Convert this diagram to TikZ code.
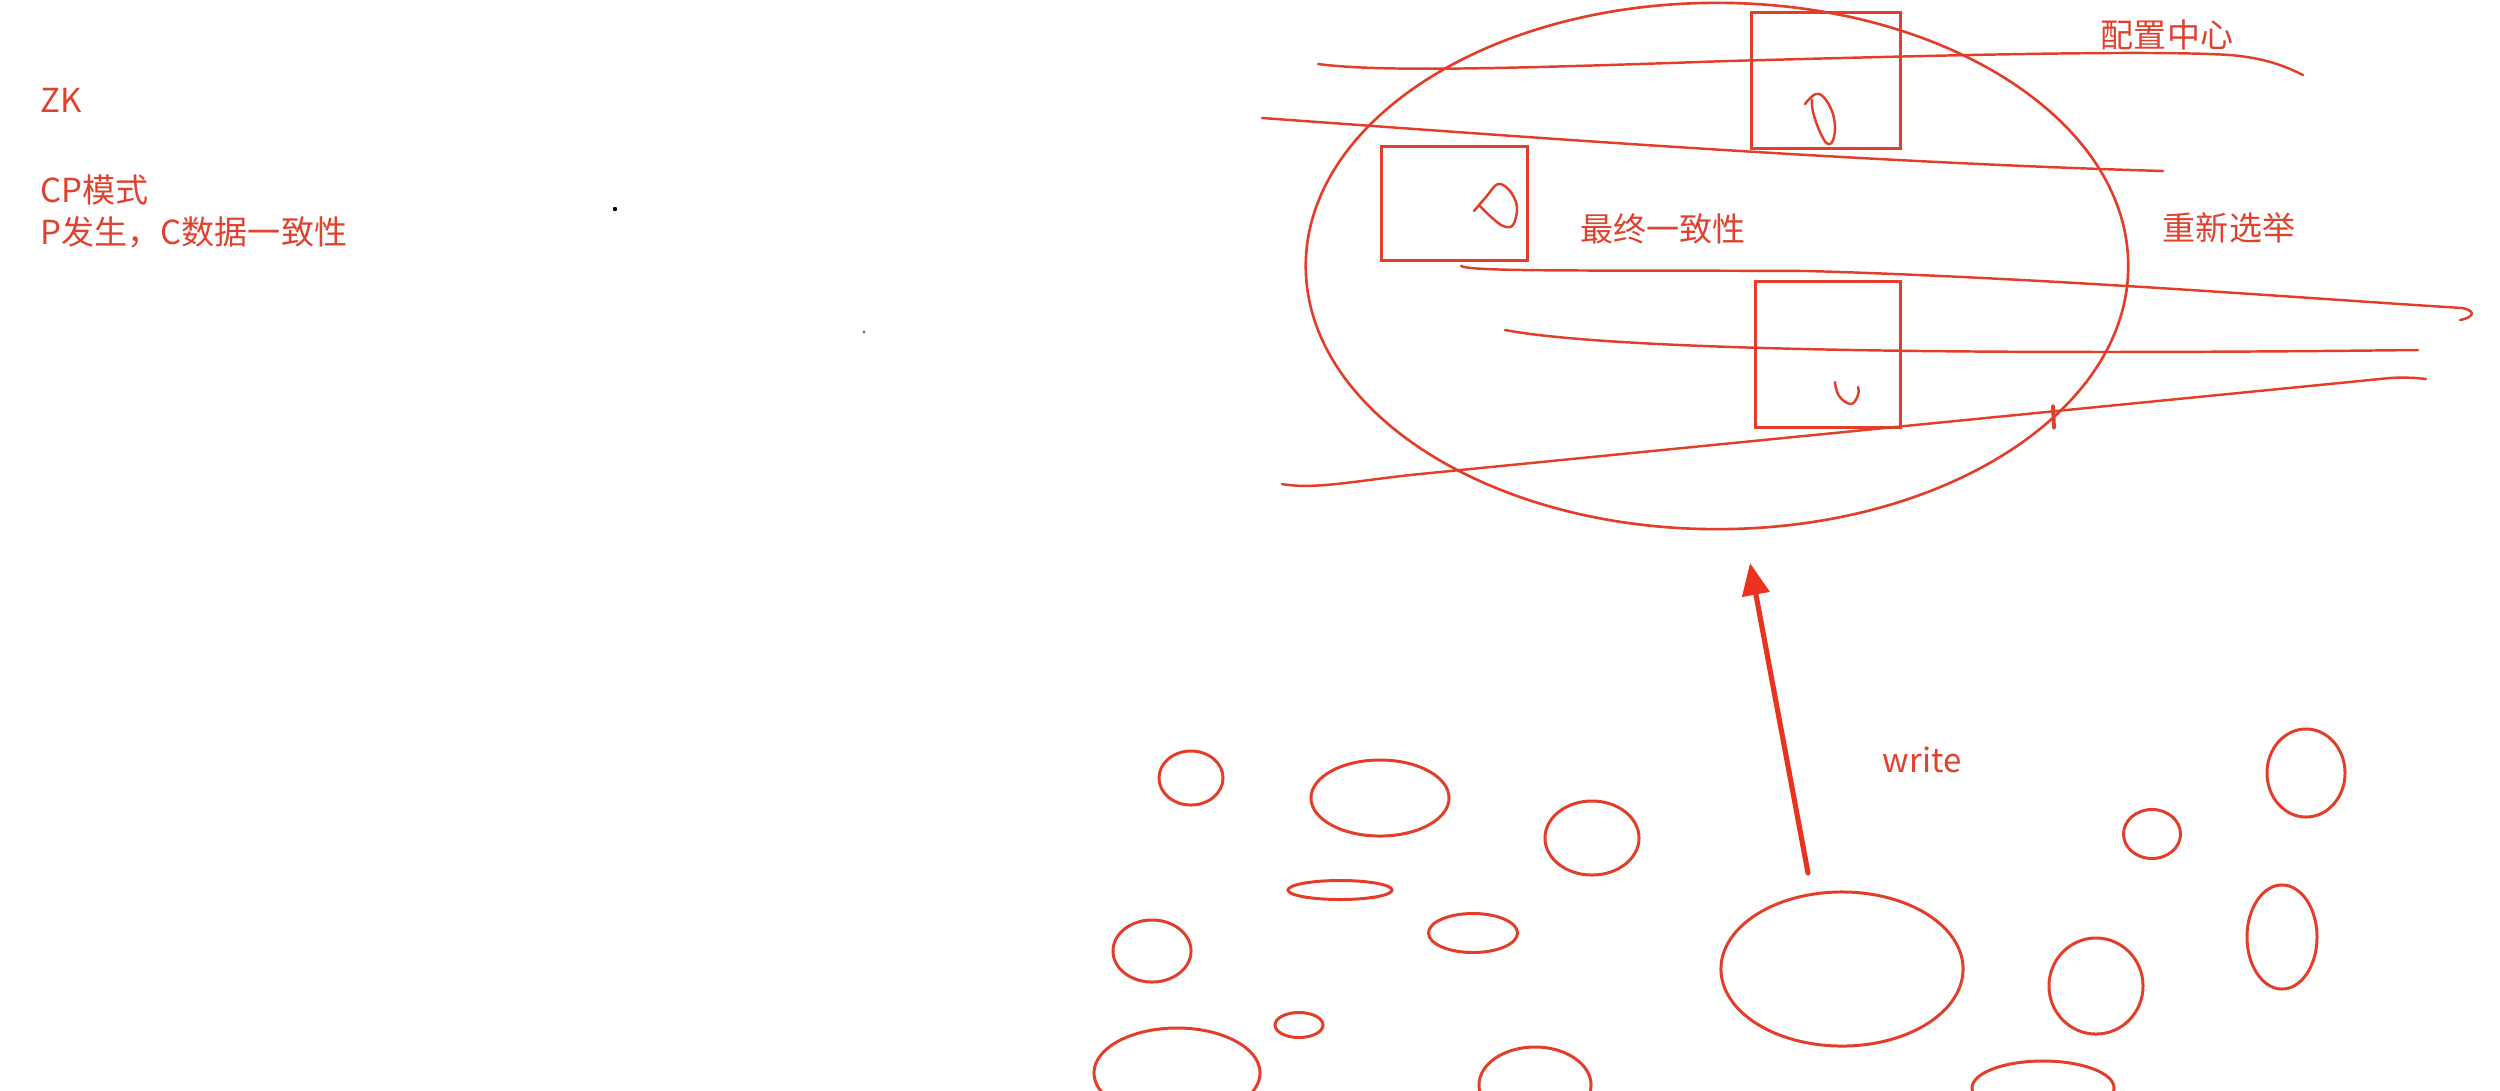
\documentclass[tikz,border=0pt]{standalone}
\usepackage{fontspec}
\setmainfont{Noto Sans CJK SC}
\usetikzlibrary{arrows.meta,shapes.geometric}
\definecolor{zkred}{RGB}{226,62,42}
\definecolor{zktext}{RGB}{224,66,46}
\definecolor{zkarrow}{RGB}{234,50,30}
\tikzset{
  stroke/.style={draw=zkred, line width=0.7pt, line cap=round, line join=round},
  blob/.style={draw=zkred, line width=0.85pt},
  boxnode/.style={draw=zkred, line width=0.85pt, inner sep=0pt},
  lbl/.style={text=zktext, inner sep=0pt, font=\fontsize{9.4}{12}\selectfont},
  writearrow/.style={draw=zkarrow, line width=1.45pt, line cap=round,
    -{Triangle[length=0.32cm,width=0.27cm]}},
}
\begin{document}
\begin{tikzpicture}[x=0.01cm, y=-0.01cm]
\useasboundingbox (0,0) rectangle (2500,1090);
\fill[white] (0,0) rectangle (2500,1090);

% left texts
\node[lbl, anchor=west] (zk) at (40,100) {ZK};
\node[lbl, anchor=west] (cp) at (40,190) {CP模式};
\node[lbl, anchor=west] (pc) at (40,232) {P发生，C数据一致性};

% stray dots
\fill[black] (615,209) circle[radius=2.2];
\fill[black!55] (864,332) circle[radius=1.6];

% big ellipse (cluster)
\node[draw=zkred, line width=0.75pt, ellipse, inner sep=0pt,
      minimum width=8.22cm, minimum height=5.26cm] (cluster) at (1717,266) {};

% boxes
\node[boxnode, minimum width=1.48cm, minimum height=1.35cm] (r1) at (1826,80.5) {};
\node[boxnode, minimum width=1.45cm, minimum height=1.13cm] (r2) at (1454.5,203.5) {};
\node[boxnode, minimum width=1.44cm, minimum height=1.45cm] (r3) at (1828,354.5) {};

% scribbles in boxes
\draw[stroke] plot[smooth, tension=0.7] coordinates {(1805,104) (1816,94) (1826,100) (1834,118) (1834,137) (1828,144) (1820,132) (1813,112) (1812,100)};
\draw[stroke] plot[smooth, tension=0.6] coordinates {(1474,211) (1486,197) (1498,184) (1510,191) (1517,207) (1513,225) (1503,226) (1490,216) (1479,205)};
\draw[stroke] plot[smooth, tension=0.7] coordinates {(1835,382) (1839,396) (1851,404) (1858,395) (1858,387)};

% hand-drawn strokes
\draw[stroke] (1318,64) .. controls (1380,72) and (1500,69) .. (1728,61)
              .. controls (1950,55) and (2150,50) .. (2230,55)
              .. controls (2265,58) and (2285,66) .. (2303,75);
\draw[stroke] (1262,118) .. controls (1500,135) and (1850,162) .. (2163,171);
\draw[stroke] (1461,266) .. controls (1470,272) and (1600,270) .. (1808,271)
              .. controls (2050,278) and (2300,298) .. (2462,308)
              .. controls (2478,311) and (2472,318) .. (2460,320);
\draw[stroke] (1505,330) .. controls (1600,348) and (1900,356) .. (2418,350);
\draw[stroke] (1282,484) .. controls (1315,490) and (1360,480) .. (1420,474)
              -- (2390,378) .. controls (2405,377) and (2418,378) .. (2426,379);
\draw[stroke, line width=1.1pt] (2053,406) -- (2054,428);

% labels in the cluster
\node[lbl] (cfg) at (2167,35) {配置中心};
\node[lbl] (eventual) at (1663,229) {最终一致性};
\node[lbl] (reelect) at (2229,228) {重新选举};

% small ellipses
\node[blob, ellipse, inner sep=0pt, minimum width=0.64cm, minimum height=0.54cm] (e1) at (1191,778) {};
\node[blob, ellipse, inner sep=0pt, minimum width=1.38cm, minimum height=0.76cm] (e2) at (1380,798) {};
\node[blob, ellipse, inner sep=0pt, minimum width=0.94cm, minimum height=0.74cm] (e3) at (1592,838) {};
\node[blob, ellipse, inner sep=0pt, minimum width=1.04cm, minimum height=0.19cm] (e4) at (1340,890) {};
\node[blob, ellipse, inner sep=0pt, minimum width=0.89cm, minimum height=0.39cm] (e5) at (1473,933) {};
\node[blob, ellipse, inner sep=0pt, minimum width=0.78cm, minimum height=0.62cm] (e6) at (1152,951) {};
\node[blob, ellipse, inner sep=0pt, minimum width=0.48cm, minimum height=0.25cm] (e7) at (1299,1025) {};
\node[blob, ellipse, inner sep=0pt, minimum width=1.66cm, minimum height=0.9cm] (e8) at (1177,1073) {};
\node[blob, ellipse, inner sep=0pt, minimum width=1.12cm, minimum height=0.76cm] (e9) at (1535,1085) {};
\node[blob, ellipse, inner sep=0pt, minimum width=2.42cm, minimum height=1.54cm] (src) at (1842,969) {};
\node[blob, ellipse, inner sep=0pt, minimum width=0.94cm, minimum height=0.96cm] (e11) at (2096,986) {};
\node[blob, ellipse, inner sep=0pt, minimum width=1.42cm, minimum height=0.54cm] (e12) at (2043,1088) {};
\node[blob, ellipse, inner sep=0pt, minimum width=0.57cm, minimum height=0.49cm] (e13) at (2152,834) {};
\node[blob, ellipse, inner sep=0pt, minimum width=0.78cm, minimum height=0.88cm] (e14) at (2306,773) {};
\node[blob, ellipse, inner sep=0pt, minimum width=0.70cm, minimum height=1.04cm] (e15) at (2282,937) {};

% write arrow
\coordinate (wtail) at (1808,873);
\coordinate (whead) at (1750,563);
\draw[writearrow] (wtail) -- (whead);
\node[lbl] (write) at (1922,760) {write};
\end{tikzpicture}
\end{document}
